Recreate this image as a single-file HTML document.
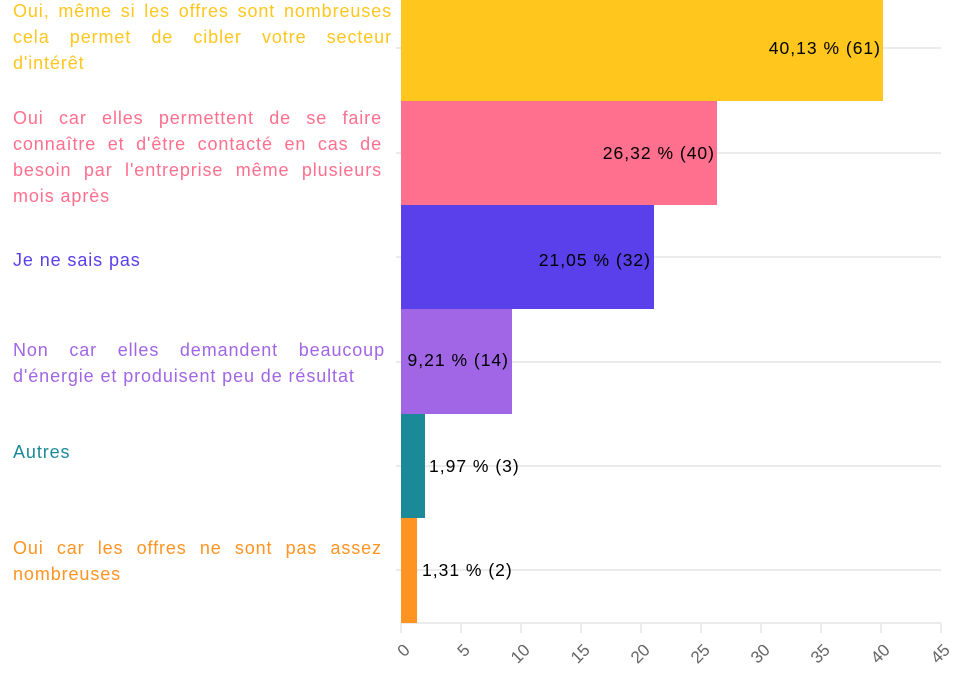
<!DOCTYPE html>
<html><head><meta charset="utf-8"><style>
body{margin:0;width:953px;height:673px;background:#fff;position:relative;overflow:hidden;font-family:"Liberation Sans",sans-serif}
.l{position:absolute;left:13px;font-size:18px;line-height:26px;letter-spacing:0.9px}
.l div{white-space:nowrap}
.j{text-align:justify;text-align-last:justify;white-space:normal!important}
.v{position:absolute;font-size:17.5px;color:#000;white-space:nowrap;line-height:20px;letter-spacing:1px}
</style></head><body>
<svg width="953" height="673" style="position:absolute;left:0;top:0">
<g stroke="#ebebeb" stroke-width="2">
<line x1="396" x2="941" y1="48" y2="48"/><line x1="396" x2="941" y1="153" y2="153"/>
<line x1="396" x2="941" y1="257" y2="257"/><line x1="396" x2="941" y1="362" y2="362"/>
<line x1="396" x2="941" y1="466" y2="466"/><line x1="396" x2="941" y1="570" y2="570"/>
<line x1="401" x2="941" y1="623" y2="623"/>
<line x1="401" x2="401" y1="623" y2="633"/><line x1="461" x2="461" y1="623" y2="633"/>
<line x1="521" x2="521" y1="623" y2="633"/><line x1="581" x2="581" y1="623" y2="633"/>
<line x1="641" x2="641" y1="623" y2="633"/><line x1="701" x2="701" y1="623" y2="633"/>
<line x1="761" x2="761" y1="623" y2="633"/><line x1="821" x2="821" y1="623" y2="633"/>
<line x1="881" x2="881" y1="623" y2="633"/><line x1="941" x2="941" y1="623" y2="633"/>
</g>
<rect x="401" y="-5" width="482" height="106" fill="#FFC61E"/>
<rect x="401" y="101" width="316" height="104" fill="#FF6F8E"/>
<rect x="401" y="205" width="253" height="104" fill="#5940EA"/>
<rect x="401" y="309" width="111" height="105" fill="#A066E6"/>
<rect x="401" y="414" width="24" height="104" fill="#1A8A98"/>
<rect x="401" y="518" width="16" height="105" fill="#FF9422"/>
<g font-family="Liberation Sans,sans-serif" font-size="17" fill="#666" text-anchor="end">
<text transform="translate(411,651) rotate(-45)">0</text>
<text transform="translate(471,651) rotate(-45)">5</text>
<text transform="translate(531,651) rotate(-45)">10</text>
<text transform="translate(591,651) rotate(-45)">15</text>
<text transform="translate(651,651) rotate(-45)">20</text>
<text transform="translate(711,651) rotate(-45)">25</text>
<text transform="translate(771,651) rotate(-45)">30</text>
<text transform="translate(831,651) rotate(-45)">35</text>
<text transform="translate(891,651) rotate(-45)">40</text>
<text transform="translate(951,651) rotate(-45)">45</text>
</g>
</svg>
<div class="l" style="top:-2px;width:379px;color:#FFC61E"><div class="j">Oui, même si les offres sont nombreuses</div><div class="j">cela permet de cibler votre secteur</div><div>d'intérêt</div></div>
<div class="l" style="top:105px;width:369px;color:#FF6F8E"><div class="j">Oui car elles permettent de se faire</div><div class="j">connaître et d'être contacté en cas de</div><div class="j">besoin par l'entreprise même plusieurs</div><div>mois après</div></div>
<div class="l" style="top:247px;width:369px;color:#5940EA"><div>Je ne sais pas</div></div>
<div class="l" style="top:337px;width:372px;color:#A066E6"><div class="j">Non car elles demandent beaucoup</div><div>d'énergie et produisent peu de résultat</div></div>
<div class="l" style="top:439px;width:369px;color:#1A8A98"><div>Autres</div></div>
<div class="l" style="top:535px;width:369px;color:#FF9422"><div class="j">Oui car les offres ne sont pas assez</div><div>nombreuses</div></div>
<div class="v" style="right:72px;top:38px">40,13 % (61)</div>
<div class="v" style="right:238px;top:143px">26,32 % (40)</div>
<div class="v" style="right:302px;top:250px">21,05 % (32)</div>
<div class="v" style="right:444px;top:350px">9,21 % (14)</div>
<div class="v" style="left:429px;top:456px">1,97 % (3)</div>
<div class="v" style="left:422px;top:560px">1,31 % (2)</div>
</body></html>
